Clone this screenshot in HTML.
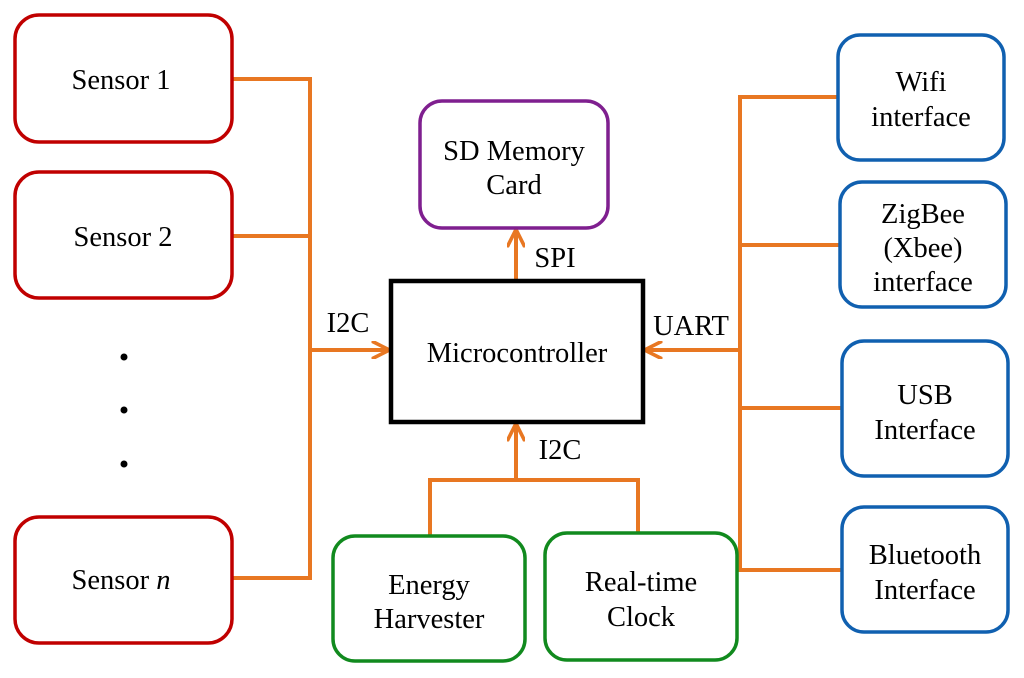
<!DOCTYPE html>
<html><head><style>html,body{margin:0;padding:0;background:#fff;}svg{display:block}</style></head>
<body>
<svg width="1024" height="678" viewBox="0 0 1024 678" xmlns="http://www.w3.org/2000/svg" font-family="'Liberation Serif', serif" font-size="28.5" text-anchor="middle">
<defs>
<marker id="a" viewBox="0 0 10 10" refX="8" refY="5" markerWidth="4.5" markerHeight="4.5" orient="auto" markerUnits="strokeWidth"><path d="M0,0 L10,5 L0,10" fill="none" stroke="#e87722" stroke-width="2"/></marker>
</defs>
<g stroke="#e87722" stroke-width="4" fill="none">
<polyline points="232,79 310,79 310,578 232,578"/>
<line x1="232" y1="236" x2="310" y2="236"/>
<line x1="310" y1="350" x2="386" y2="350" marker-end="url(#a)"/>
<line x1="516" y1="280" x2="516" y2="233" marker-end="url(#a)"/>
<line x1="516" y1="480" x2="516" y2="427" marker-end="url(#a)"/>
<polyline points="430,536 430,480 638,480 638,534"/>
<polyline points="838,97 740,97 740,570 842,570"/>
<line x1="740" y1="245" x2="840" y2="245"/>
<line x1="740" y1="408" x2="842" y2="408"/>
<line x1="740" y1="350" x2="648" y2="350" marker-end="url(#a)"/>
</g>
<g fill="#fff" stroke-width="3.5">
<rect x="15" y="15" width="217" height="127" rx="24" stroke="#c00000"/>
<rect x="15" y="172" width="217" height="126" rx="24" stroke="#c00000"/>
<rect x="15" y="517" width="217" height="126" rx="24" stroke="#c00000"/>
<rect x="420" y="101" width="188" height="127" rx="22" stroke="#7f1f8f"/>
<rect x="333" y="536" width="192" height="125" rx="22" stroke="#118a1e"/>
<rect x="545" y="533" width="192" height="127" rx="22" stroke="#118a1e"/>
<rect x="838" y="35" width="166" height="125" rx="22" stroke="#1060b0"/>
<rect x="840" y="182" width="166" height="125" rx="22" stroke="#1060b0"/>
<rect x="842" y="341" width="166" height="135" rx="22" stroke="#1060b0"/>
<rect x="842" y="507" width="166" height="125" rx="22" stroke="#1060b0"/>
<rect x="391" y="281" width="252" height="141" stroke="#000" stroke-width="4.5"/>
</g>
<g fill="#000">
<circle cx="124" cy="357" r="3.5"/><circle cx="124" cy="410" r="3.5"/><circle cx="124" cy="464" r="3.5"/>
<text x="121" y="89">Sensor 1</text>
<text x="123" y="246">Sensor 2</text>
<text x="121" y="589">Sensor <tspan font-style="italic">n</tspan></text>
<text x="514" y="160">SD Memory</text><text x="514" y="194">Card</text>
<text x="517" y="362">Microcontroller</text>
<text x="429" y="594">Energy</text><text x="429" y="628">Harvester</text>
<text x="641" y="591">Real-time</text><text x="641" y="626">Clock</text>
<text x="921" y="91">Wifi</text><text x="921" y="126">interface</text>
<text x="923" y="223">ZigBee</text><text x="923" y="257">(Xbee)</text><text x="923" y="291">interface</text>
<text x="925" y="404">USB</text><text x="925" y="439">Interface</text>
<text x="925" y="564">Bluetooth</text><text x="925" y="599">Interface</text>
<text x="348" y="332">I2C</text>
<text x="691" y="335">UART</text>
<text x="555" y="267">SPI</text>
<text x="560" y="459">I2C</text>
</g>
</svg>
</body></html>
